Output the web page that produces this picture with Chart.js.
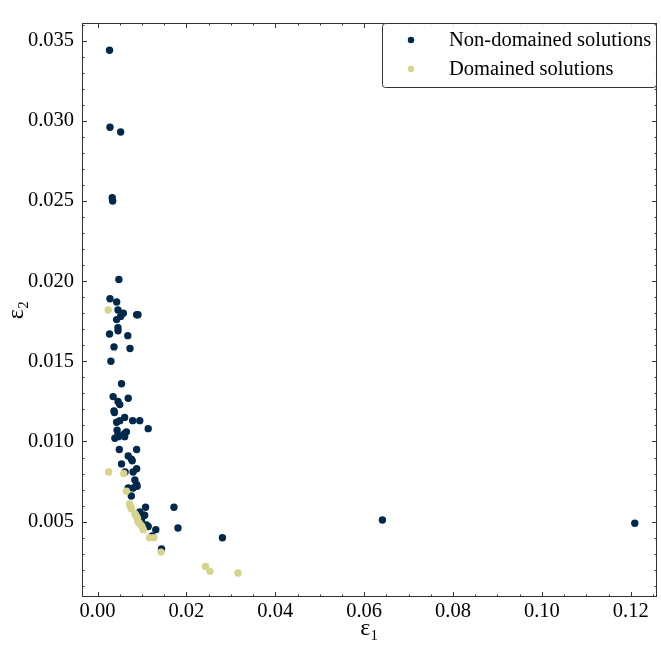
<!DOCTYPE html>
<html>
<head>
<meta charset="utf-8">
<script src="https://cdn.jsdelivr.net/npm/chart.js@4/dist/chart.umd.min.js"></script>
<style>
  html, body { margin: 0; padding: 0; background: #ffffff; }
  #wrap { width: 661px; height: 648px; position: relative; }
</style>
</head>
<body>
<div id="wrap"><canvas id="c" width="661" height="648"></canvas></div>
<script>
// ---- Data ----
const seriesLabels = ["Non-domained solutions", "Domained solutions"];

const nonDomX = [0.0027, 0.0028, 0.0052, 0.0033, 0.0034, 0.0048, 0.0028, 0.0043, 0.0046, 0.0058,
  0.0052, 0.0088, 0.0091, 0.0043, 0.0046, 0.0046, 0.0027, 0.0068, 0.0037, 0.0073,
  0.0030, 0.0054, 0.0035, 0.0069, 0.0046, 0.0050, 0.0037, 0.0038, 0.0061, 0.0050,
  0.0043, 0.0079, 0.0095, 0.0114, 0.0044, 0.0065, 0.0061, 0.0046, 0.0039, 0.0047,
  0.0061, 0.0049, 0.0088, 0.0069, 0.0076, 0.0078, 0.0054, 0.0088, 0.0080, 0.0062,
  0.0084, 0.0088, 0.0089, 0.0069, 0.0080, 0.0076, 0.0108, 0.0172, 0.0095, 0.0103,
  0.0106, 0.0099, 0.0110, 0.0114, 0.0131, 0.0181, 0.0123, 0.0281, 0.0144, 0.0641,
  0.1209];
const nonDomY = [0.0344, 0.0296, 0.0293, 0.0252, 0.0250, 0.0201, 0.0189, 0.0187, 0.0182, 0.0180,
  0.0178, 0.0179, 0.0179, 0.0176, 0.0171, 0.0169, 0.0167, 0.0166, 0.0159, 0.0158,
  0.0150, 0.0136, 0.0128, 0.0127, 0.0125, 0.0123, 0.0119, 0.0118, 0.0115, 0.0113,
  0.0112, 0.0113, 0.0113, 0.0108, 0.0107, 0.0106, 0.0105, 0.0104, 0.0102, 0.0103,
  0.0103, 0.0095, 0.0095, 0.0091, 0.0089, 0.0088, 0.0086, 0.0083, 0.0081, 0.0081,
  0.0076, 0.0073, 0.0072, 0.0071, 0.0071, 0.0066, 0.0059, 0.0059, 0.0056, 0.0054,
  0.0054, 0.0051, 0.0048, 0.0047, 0.0045, 0.0046, 0.0041, 0.0040, 0.0033, 0.0051,
  0.0049];

const domX = [0.0024, 0.0025, 0.0059, 0.0065, 0.0072, 0.0075, 0.0076, 0.0084, 0.0086, 0.0088,
  0.0090, 0.0091, 0.0094, 0.0097, 0.0100, 0.0103, 0.0117, 0.0127, 0.0143, 0.0243,
  0.0253, 0.0316];
const domY = [0.0182, 0.0081, 0.0080, 0.0069, 0.0061, 0.0059, 0.0058, 0.0055, 0.0054, 0.0053,
  0.0052, 0.0050, 0.0049, 0.0048, 0.0047, 0.0045, 0.0040, 0.0040, 0.0031, 0.0022,
  0.0019, 0.0018];

const xTickStep = 0.02, xMinorStep = 0.005;
const yTickStep = 0.005, yMinorStep = 0.001;
const xRange = [-0.0035, 0.1259];
const yRange = [0.0003, 0.0361];

const darkColor = "#03284a";
const lightColor = "#d6d38f";
const frameColor = "#333333";
const FONT = "'Liberation Serif', 'Times New Roman', serif";

function toPoints(xs, ys) { return xs.map((x, i) => ({ x: x, y: ys[i] })); }

// ---- Frame with inward ticks on all four sides, and the legend box ----
const framePlugin = {
  id: 'frameTicks',
  afterDatasetsDraw(chart) {
    const { ctx, chartArea: a, scales } = chart;
    const xs = scales.x, ys = scales.y;
    ctx.save();
    ctx.strokeStyle = frameColor;
    ctx.lineWidth = 1;
    ctx.strokeRect(Math.round(a.left) + 0.5, Math.round(a.top) + 0.5,
                   Math.round(a.right - a.left) - 1, Math.round(a.bottom - a.top) - 1);
    const major = 5, minor = 2.5;
    ctx.beginPath();
    const nx0 = Math.ceil(xs.min / xMinorStep), nx1 = Math.floor(xs.max / xMinorStep);
    for (let k = nx0; k <= nx1; k++) {
      const v = k * xMinorStep;
      const px = Math.round(xs.getPixelForValue(v)) + 0.5;
      const len = (k % Math.round(xTickStep / xMinorStep) === 0) ? major : minor;
      ctx.moveTo(px, a.bottom); ctx.lineTo(px, a.bottom - len);
      ctx.moveTo(px, a.top); ctx.lineTo(px, a.top + len);
    }
    const ny0 = Math.ceil(ys.min / yMinorStep), ny1 = Math.floor(ys.max / yMinorStep);
    for (let k = ny0; k <= ny1; k++) {
      const v = k * yMinorStep;
      const py = Math.round(ys.getPixelForValue(v)) + 0.5;
      const len = (k % Math.round(yTickStep / yMinorStep) === 0) ? major : minor;
      ctx.moveTo(a.left, py); ctx.lineTo(a.left + len, py);
      ctx.moveTo(a.right, py); ctx.lineTo(a.right - len, py);
    }
    ctx.stroke();
    ctx.restore();
  },
  afterDraw(chart) {
    const { ctx, chartArea: a } = chart;
    const w = 275, h = 64;
    const bx = a.right - w, by = a.top;
    ctx.save();
    ctx.beginPath();
    if (ctx.roundRect) ctx.roundRect(bx + 0.5, by + 0.5, w - 1, h, 3);
    else ctx.rect(bx + 0.5, by + 0.5, w - 1, h);
    ctx.fillStyle = 'rgba(255,255,255,0.9)';
    ctx.fill();
    ctx.strokeStyle = frameColor;
    ctx.lineWidth = 1;
    ctx.stroke();
    ctx.font = "20.5px " + FONT;
    ctx.textBaseline = 'middle';
    ctx.textAlign = 'left';
    chart.data.datasets.forEach((ds, i) => {
      const yy = by + 17 + i * 29;
      ctx.beginPath();
      ctx.arc(bx + 29, yy, 3.2, 0, Math.PI * 2);
      ctx.fillStyle = ds.backgroundColor;
      ctx.fill();
      ctx.fillStyle = '#000000';
      ctx.fillText(ds.label, bx + 67, yy + 1);
    });
    ctx.restore();
  }
};

new Chart(document.getElementById('c'), {
  type: 'scatter',
  data: {
    datasets: [
      { label: seriesLabels[0], data: toPoints(nonDomX, nonDomY),
        backgroundColor: darkColor, borderWidth: 0, pointRadius: 3.7, order: 1 },
      { label: seriesLabels[1], data: toPoints(domX, domY),
        backgroundColor: lightColor, borderWidth: 0, pointRadius: 3.7, order: 0 }
    ]
  },
  options: {
    responsive: false,
    animation: false,
    devicePixelRatio: 1,
    layout: { padding: { top: 23, right: 3, left: 0, bottom: 0 } },
    plugins: { legend: { display: false }, tooltip: { enabled: false } },
    scales: {
      x: {
        type: 'linear', min: xRange[0], max: xRange[1],
        grid: { display: false, drawTicks: false },
        border: { display: false },
        ticks: { stepSize: xTickStep, includeBounds: false, padding: 2, color: '#000',
                 font: { family: FONT, size: 20.5 }, maxRotation: 0,
                 callback: v => Number(v).toFixed(2) },
        title: { display: true, text: 'ε₁', color: '#000',
                 font: { family: FONT, size: 24 }, padding: { top: 0, bottom: 5 } },
        afterFit: s => { s.height = 51; }
      },
      y: {
        type: 'linear', min: yRange[0], max: yRange[1],
        grid: { display: false, drawTicks: false },
        border: { display: false },
        ticks: { stepSize: yTickStep, includeBounds: false, padding: 8, color: '#000',
                 font: { family: FONT, size: 20.5 },
                 callback: v => Number(v).toFixed(3) },
        title: { display: true, text: 'ε₂', color: '#000',
                 font: { family: FONT, size: 24 }, padding: { top: 2, bottom: 0 } },
        afterFit: s => { s.width = 82; }
      }
    }
  },
  plugins: [framePlugin]
});
</script>
</body>
</html>
